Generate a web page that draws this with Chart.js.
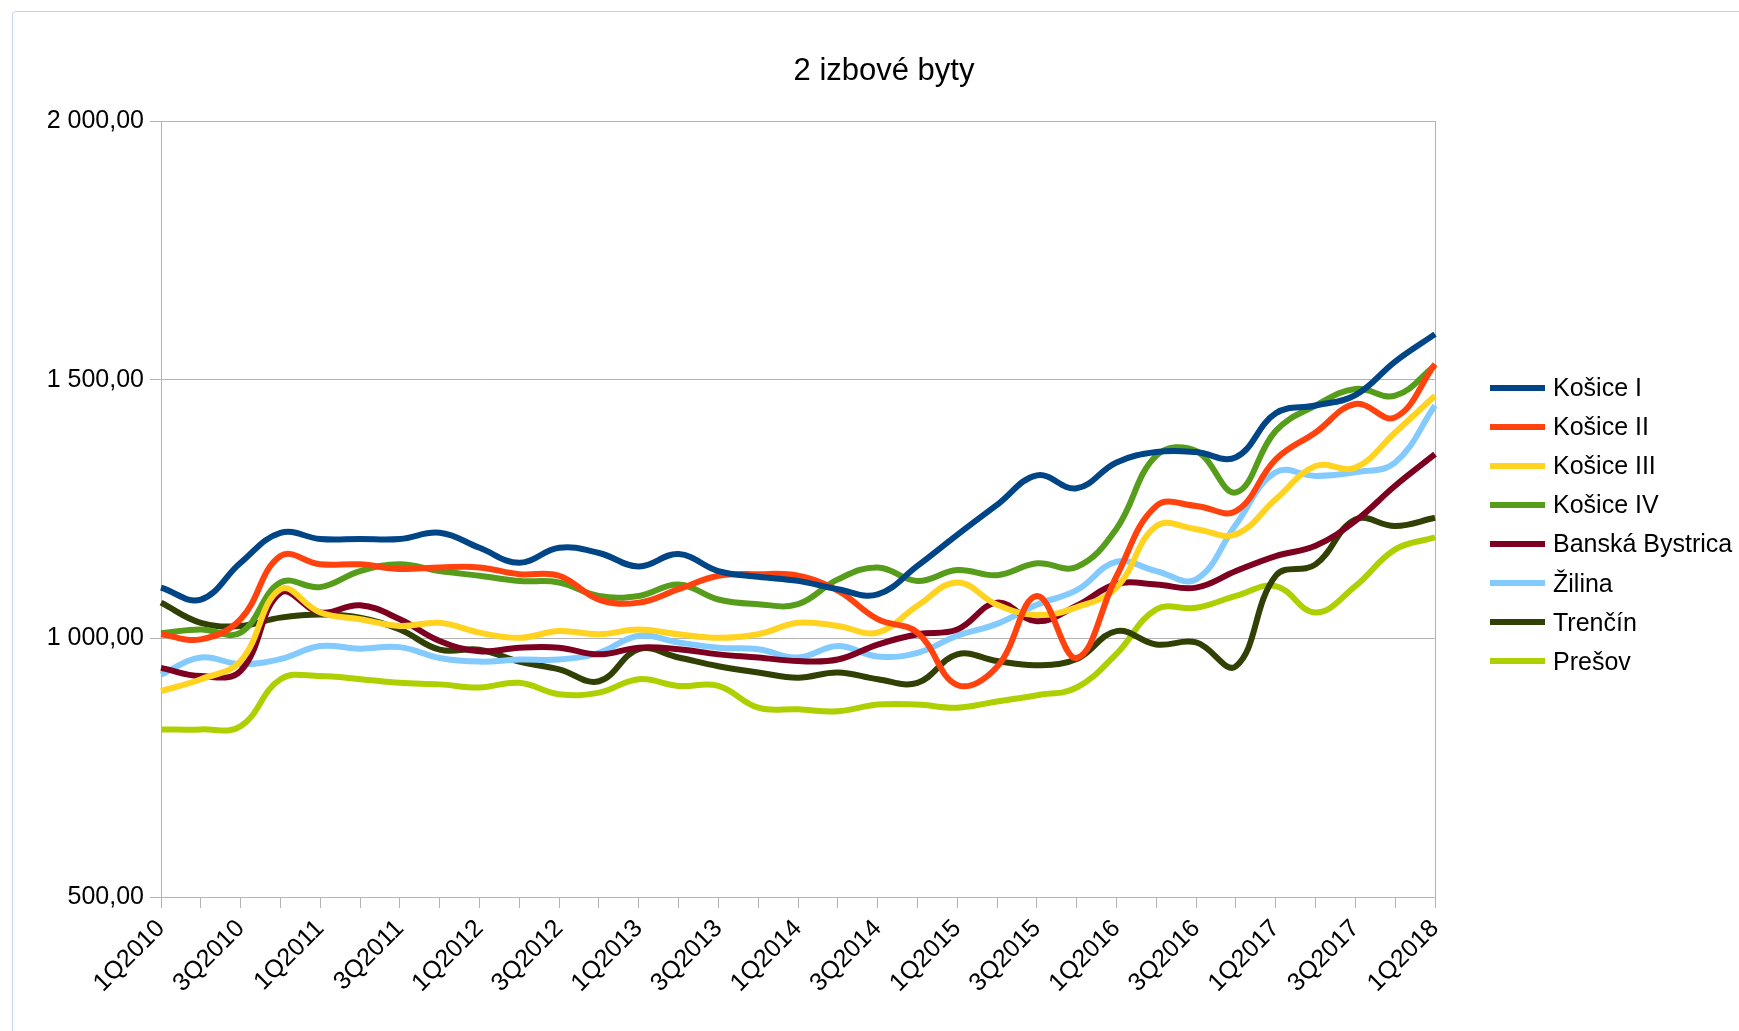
<!DOCTYPE html>
<html>
<head>
<meta charset="utf-8">
<title>2 izbové byty</title>
<script src="https://cdn.jsdelivr.net/npm/chart.js@4.4.0/dist/chart.umd.min.js"></script>
<style>
    html, body { margin: 0; padding: 0; background: #fff; overflow: hidden; }
    body { width: 1739px; height: 1031px; position: relative; font-family: "Liberation Sans", Arial, sans-serif; }
    #frame { position: absolute; left: 12px; top: 11px; width: 1800px; height: 1100px; border: 1px solid #c6d4e8; border-radius: 4px; }
    #wrap { position: absolute; left: 0; top: 0; width: 1739px; height: 1031px; }
    #title { position: absolute; left: 0; width: 1768px; top: 52px; text-align: center; font-size: 31px; color: #000; }
    #legend { position: absolute; left: 1490px; top: 368px; }
    .item { height: 39.1px; display: flex; align-items: center; font-size: 25px; color: #000; white-space: nowrap; }
    .swatch { width: 55px; height: 6px; margin-right: 8px; }
</style>
</head>
<body>
<div id="frame"></div>
<div id="wrap"><canvas id="chart" width="1739" height="1031"></canvas></div>
<div id="title">2 izbové byty</div>
<div id="legend"></div>

<script>
// Štvrťroky
const quarters = [
    '1Q2010', '2Q2010', '3Q2010', '4Q2010',
    '1Q2011', '2Q2011', '3Q2011', '4Q2011',
    '1Q2012', '2Q2012', '3Q2012', '4Q2012',
    '1Q2013', '2Q2013', '3Q2013', '4Q2013',
    '1Q2014', '2Q2014', '3Q2014', '4Q2014',
    '1Q2015', '2Q2015', '3Q2015', '4Q2015',
    '1Q2016', '2Q2016', '3Q2016', '4Q2016',
    '1Q2017', '2Q2017', '3Q2017', '4Q2017',
    '1Q2018'
];

// Ceny (odčítané z grafu)
const kosice1 = [1098, 1075, 1146, 1204, 1192, 1192, 1192, 1204, 1175, 1146, 1175, 1165, 1139, 1163, 1130, 1119, 1111,
                 1095, 1085, 1140, 1200, 1258, 1315, 1290, 1340, 1360, 1360, 1350, 1435, 1450, 1470, 1535, 1588];
const kosice2 = [1008, 998, 1037, 1159, 1143, 1143, 1134, 1137, 1137, 1124, 1121, 1075, 1069, 1095, 1121, 1124, 1121,
                 1092, 1037, 1011, 910, 945, 1082, 962, 1120, 1256, 1256, 1246, 1346, 1398, 1453, 1427, 1530];
const kosice3 = [898, 921, 956, 1095, 1050, 1037, 1024, 1030, 1011, 1001, 1014, 1008, 1017, 1008, 1001, 1008, 1030,
                 1024, 1011, 1063, 1108, 1065, 1045, 1060, 1098, 1217, 1211, 1201, 1269, 1333, 1330, 1398, 1469];
const kosice4 = [1010, 1017, 1011, 1108, 1099, 1130, 1143, 1130, 1121, 1111, 1108, 1082, 1082, 1104, 1075, 1066, 1066,
                 1114, 1137, 1111, 1132, 1122, 1145, 1138, 1212, 1353, 1362, 1282, 1401, 1450, 1482, 1469, 1527];
const banskaBystrica = [943, 927, 937, 1088, 1050, 1064, 1037, 995, 975, 982, 982, 969, 982, 979, 969, 963, 956,
                        959, 988, 1008, 1017, 1069, 1033, 1063, 1105, 1104, 1098, 1130, 1159, 1179, 1227, 1295, 1356];
const zilina = [930, 963, 950, 960, 985, 980, 983, 962, 955, 959, 959, 972, 1005, 992, 982, 979, 963,
                985, 965, 972, 1005, 1028, 1065, 1093, 1148, 1130, 1114, 1220, 1321, 1314, 1321, 1340, 1450];
const trencin = [1069, 1030, 1024, 1040, 1046, 1040, 1017, 978, 978, 955, 940, 917, 979, 963, 946, 934, 924,
                 934, 921, 914, 969, 956, 948, 960, 1014, 988, 992, 946, 1121, 1143, 1230, 1217, 1233];
const presov = [824, 824, 830, 921, 927, 921, 914, 911, 905, 914, 892, 895, 921, 908, 908, 866, 863,
                859, 872, 872, 866, 878, 890, 905, 970, 1056, 1059, 1082, 1101, 1050, 1101, 1172, 1195];

const yTicks = [500, 1000, 1500, 2000];

const FONT = '"Liberation Sans", Arial, sans-serif';

// 2 000,00
function formatPrice(v) {
    const whole = Math.round(v).toString().replace(/\B(?=(\d{3})+(?!\d))/g, ' ');
    return whole + ',00';
}

// rámik okolo plochy grafu
const plotFrame = {
    id: 'plotFrame',
    beforeDatasetsDraw(chart) {
        const a = chart.chartArea;
        const ctx = chart.ctx;
        ctx.save();
        ctx.strokeStyle = '#b3b3b3';
        ctx.lineWidth = 1;
        ctx.strokeRect(Math.round(a.left) + 0.5, Math.round(a.top) + 0.5,
                       Math.round(a.right - a.left), Math.round(a.bottom - a.top));
        ctx.restore();
    }
};

function series(label, data, color) {
    return {
        label: label,
        data: data,
        borderColor: color,
        backgroundColor: color,
        borderWidth: 6,
        pointRadius: 0,
        fill: false,
        tension: 0.4
    };
}

const chart = new Chart(document.getElementById('chart').getContext('2d'), {
    type: 'line',
    data: {
        labels: quarters,
        datasets: [
            series('Košice I', kosice1, '#004586'),
            series('Košice II', kosice2, '#ff420e'),
            series('Košice III', kosice3, '#ffd320'),
            series('Košice IV', kosice4, '#579d1c'),
            series('Banská Bystrica', banskaBystrica, '#7e0021'),
            series('Žilina', zilina, '#83caff'),
            series('Trenčín', trencin, '#314004'),
            series('Prešov', presov, '#aecf00')
        ]
    },
    options: {
        responsive: false,
        animation: false,
        layout: { padding: { top: 121, right: 304, left: 0, bottom: 0 } },
        plugins: {
            legend: { display: false },
            title: { display: false },
            tooltip: { enabled: false }
        },
        scales: {
            x: {
                ticks: {
                    autoSkip: false,
                    minRotation: 45,
                    maxRotation: 45,
                    padding: 6,
                    color: '#000',
                    font: { family: FONT, size: 25 },
                    callback: function(value, index) {
                        return index % 2 === 0 ? this.getLabelForValue(value) : '';
                    }
                },
                grid: { drawOnChartArea: false, color: '#b3b3b3', tickLength: 11 },
                border: { color: '#b3b3b3' },
                afterFit: function(scale) { scale.height = 134; }
            },
            y: {
                min: yTicks[0],
                max: yTicks[yTicks.length - 1],
                afterBuildTicks: function(scale) {
                    scale.ticks = yTicks.map(v => ({ value: v }));
                },
                ticks: {
                    padding: 6,
                    color: '#000',
                    font: { family: FONT, size: 25 },
                    callback: formatPrice
                },
                grid: { color: '#b3b3b3', tickLength: 11 },
                border: { color: '#b3b3b3' },
                afterFit: function(scale) { scale.width = 161; }
            }
        }
    },
    plugins: [plotFrame]
});

// legenda
const legend = document.getElementById('legend');
chart.data.datasets.forEach(ds => {
    const item = document.createElement('div');
    item.className = 'item';
    const sw = document.createElement('span');
    sw.className = 'swatch';
    sw.style.background = ds.borderColor;
    const txt = document.createElement('span');
    txt.textContent = ds.label;
    item.appendChild(sw);
    item.appendChild(txt);
    legend.appendChild(item);
});
</script>
</body>
</html>
